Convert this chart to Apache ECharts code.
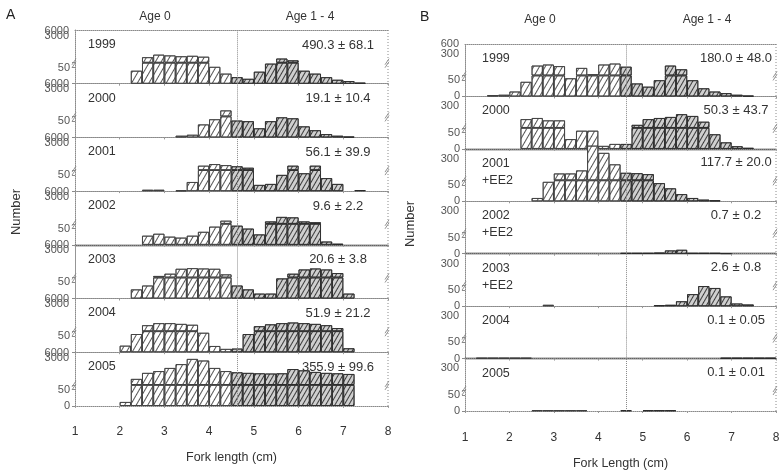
<!DOCTYPE html>
<html><head><meta charset="utf-8">
<script src="https://cdn.jsdelivr.net/npm/echarts@6/dist/echarts.min.js"></script>
<style>html,body{margin:0;padding:0;background:#fff}#c{width:780px;height:471px}</style>
</head><body><div id="c"></div>
<script>
// ---- data ----
const lengthBins = [1.125,1.375,1.625,1.875,2.125,2.375,2.625,2.875,3.125,3.375,3.625,3.875,4.125,4.375,4.625,4.875,5.125,5.375,5.625,5.875,6.125,6.375,6.625,6.875,7.125,7.375,7.625,7.875];
const xTicks = [1,2,3,4,5,6,7,8];
const ageSplit = 4.62;
const breakValue = 65;

const yearsA = ['1999','2000','2001','2002','2003','2004','2005'];
const yearsB = ['1999','2000','2001\n+EE2','2002\n+EE2','2003\n+EE2','2004','2005'];
const statsA = ['490.3 ± 68.1','19.1 ± 10.4','56.1 ± 39.9','9.6 ± 2.2','20.6 ± 3.8','51.9 ± 21.2','355.9 ± 99.6'];
const statsB = ['180.0 ± 48.0','50.3 ± 43.7','117.7 ± 20.0','0.7 ± 0.2','2.6 ± 0.8','0.1 ± 0.05','0.1 ± 0.01'];

const upperTicksA = [3000, 6000];
const upperTicksB1999 = [300, 600];
const upperTicksB = [300];

const A1999 = [0,0,0,0,0,40,140,200,180,160,170,150,52,31,20,15,37,62,116,90,40,31,20,12,8,3,0,0];
const A2000 = [0,0,0,0,0,0,0,0,0,5,8,40,56,150,52,50,28,50,62,59,34,22,10,5,2,0,0,0];
const A2001 = [0,0,0,0,0,0,4,4,0,2,28,120,150,130,110,90,19,22,50,120,55,120,40,22,0,3,0,0];
const A2002 = [0,0,0,0,0,0,28,34,25,22,28,40,56,100,59,50,32,90,170,160,90,80,10,3,0,0,0,0];
const A2003 = [0,0,0,0,0,28,40,80,110,220,240,230,220,100,40,28,15,15,62,110,200,230,200,120,15,0,0,0];
const A2004 = [0,0,0,0,20,56,150,200,200,180,160,60,19,10,11,56,130,170,200,220,200,180,150,100,12,0,0,0];
const A2005 = [0,0,0,0,12,150,350,450,700,1200,2500,2000,700,450,380,350,330,320,330,600,500,400,350,330,300,0,0,0];

const B1999 = [0,0,4,5,15,45,130,140,125,56,110,70,140,150,120,40,30,50,130,100,50,25,15,10,5,2,0,0];
const B2000 = [0,0,0,0,0,120,130,110,110,30,56,56,9,15,15,80,120,130,140,170,150,100,45,20,8,3,0,0];
const B2001 = [0,0,0,0,0,0,10,60,105,105,130,750,450,200,110,107,100,56,40,22,10,5,3,0,0,0,0,0];
const B2002 = [0,0,0,0,0,0,0,0,0,0,0,0,0,0,2,2,2,3,10,12,2,2,2,1,0,0,0,0];
const B2003 = [0,0,0,0,0,0,0,4,0,0,0,0,0,0,0,0,0,3,4,15,37,62,56,30,8,5,0,0];
const B2004 = [0,2,2,2,2,2,0,0,0,0,0,0,0,0,0,0,0,0,0,0,0,0,0,2,2,2,2,2];
const B2005 = [0,0,0,0,0,0,2,2,2,2,2,0,0,0,2,0,2,2,2,0,0,0,0,0,0,0,0,0];

const countsA = [A1999,A2000,A2001,A2002,A2003,A2004,A2005];
const countsB = [B1999,B2000,B2001,B2002,B2003,B2004,B2005];

// ---- layout / style ----
const FONT = '"Liberation Sans", Arial, sans-serif';
const TXT = '#333';
const LINE = '#8a8a8a';
const LOWER_H = 21;
const panels = [
  {letter:'A', counts:countsA, years:yearsA, stats:statsA, left:75, width:313, top:30, rowH:53.7, upMax:6500,
   ticks:r=>upperTicksA, solid:[3], zeroRows:[6], statX:338, statDy:15, yearX:88, labelMargin:20,
   xName:'Fork length (cm)', nameX:16, nameY:212, letterX:6, letterY:16, age0X:155, age1X:310, ageY:17},
  {letter:'B', counts:countsB, years:yearsB, stats:statsB, left:465, width:311, top:44, rowH:52.43, upMax:600,
   ticks:r=>r===0?upperTicksB1999:upperTicksB, solid:[1,3,5], zeroRows:[0,1,2,3,4,5,6], statX:736, statDy:14, yearX:482, labelMargin:21,
   xName:'Fork Length (cm)', nameX:410, nameY:224, letterX:420, letterY:18, age0X:540, age1X:707, ageY:20}
];

const age0Style = {color:'#ffffff', borderColor:'#3c3c3c', borderWidth:0.8,
  decal:{symbol:'rect', symbolSize:1, dashArrayX:[1,0], dashArrayY:[1,4], rotation:-Math.PI/3, color:'#555'}};
const age1Style = {color:'#cfcfcf', borderColor:'#2a2a2a', borderWidth:0.8,
  decal:{symbol:'rect', symbolSize:1, dashArrayX:[1,0], dashArrayY:[1,3], rotation:-Math.PI/3, color:'#3a3a3a'}};
const splitLine = {silent:true, symbol:['none','none'], label:{show:false}, animation:false,
  lineStyle:{type:'dotted', color:LINE, width:1}, emphasis:{disabled:true}, data:[{xAxis:ageSplit}]};

const grids=[], xAxes=[], yAxes=[], series=[], upperInfo=[], graphics=[];

panels.forEach(p=>{
  const bw = p.width/7*0.25;
  p.counts.forEach((vals,r)=>{
    const rowTop = p.top + p.rowH*r;
    const last = r===6;
    const gU = grids.length;
    grids.push({left:p.left, top:rowTop, width:p.width, height:p.rowH-LOWER_H, containLabel:false, outerBoundsMode:'none'});
    const gL = grids.length;
    grids.push({left:p.left, top:rowTop+p.rowH-LOWER_H, width:p.width, height:LOWER_H, containLabel:false, outerBoundsMode:'none'});
    const solid = p.solid.includes(r);
    xAxes.push({gridIndex:gU, type:'value', min:1, max:8, interval:1, position:'top',
      axisLine:{show:true, onZero:false, lineStyle:{type:'dotted', color:LINE}},
      axisTick:{show:false}, axisLabel:{show:false}, splitLine:{show:false}});
    xAxes.push({gridIndex:gL, type:'value', min:1, max:8, interval:1, position:'bottom',
      axisLine:{show:true, onZero:false, lineStyle:{type:solid?'solid':'dotted', color:solid?'#222':LINE, width:solid?1.4:1}},
      axisTick:{show:true, length:2, lineStyle:{color:'#999'}},
      axisLabel:{show:last, margin:p.labelMargin, fontSize:12, color:TXT, fontFamily:FONT, formatter:v=>xTicks.includes(v)?String(v):''},
      name:last?p.xName:'', nameLocation:'middle', nameGap:p.labelMargin+25,
      nameTextStyle:{fontSize:12.5, color:TXT, fontFamily:FONT}, splitLine:{show:false}});
    yAxes.push({gridIndex:gU, type:'log', logBase:10, min:breakValue, max:p.upMax, startValue:breakValue,
      axisLine:{show:true, onZero:false, lineStyle:{type:'dotted', color:LINE}},
      axisTick:{show:false}, axisLabel:{show:false}, splitLine:{show:false}});
    const showZero = p.zeroRows.includes(r);
    yAxes.push({gridIndex:gL, type:'value', min:0, max:breakValue, interval:50,
      axisLine:{show:true, onZero:false, lineStyle:{type:'dotted', color:LINE}},
      axisTick:{show:true, length:3, lineStyle:{color:LINE}},
      axisLabel:{show:true, fontSize:11, color:'#555', margin:5, fontFamily:FONT,
        formatter:v=>v===50?'50':(v===0&&showZero?'0':'')},
      splitLine:{show:false}});
    upperInfo.push({axis:gU, ticks:p.ticks(r), x:p.left-6});

    const pt=(i,v)=>[lengthBins[i], v];
    const isA0 = i=>lengthBins[i]<ageSplit;
    const up0 = vals.map((v,i)=>pt(i, v>breakValue&&isA0(i)?v:'-'));
    const up1 = vals.map((v,i)=>pt(i, v>breakValue&&!isA0(i)?v:'-'));
    const lo0 = vals.map((v,i)=>pt(i, v>0&&isA0(i)?Math.min(v,breakValue):'-'));
    const lo1 = vals.map((v,i)=>pt(i, v>0&&!isA0(i)?Math.min(v,breakValue):'-'));
    const common = {type:'bar', barWidth:bw, barGap:'-100%', animation:false, emphasis:{disabled:true}};
    series.push(Object.assign({}, common, {xAxisIndex:gU, yAxisIndex:gU, data:up0, clip:false, itemStyle:age0Style, markLine:splitLine, z:3}));
    series.push(Object.assign({}, common, {xAxisIndex:gU, yAxisIndex:gU, data:up1, clip:false, itemStyle:age1Style, z:3}));
    series.push(Object.assign({}, common, {xAxisIndex:gL, yAxisIndex:gL, data:lo0, itemStyle:age0Style, markLine:splitLine, z:3}));
    series.push(Object.assign({}, common, {xAxisIndex:gL, yAxisIndex:gL, data:lo1, itemStyle:age1Style, z:3}));

    // texts
    graphics.push({type:'text', left:p.yearX, top:rowTop+6, silent:true,
      style:{text:p.years[r], font:'12.5px '+FONT, fill:TXT, lineHeight:17}});
    graphics.push({type:'text', x:p.statX, y:rowTop+p.statDy, silent:true,
      style:{text:p.stats[r], font:'13px '+FONT, fill:TXT, align:'center', verticalAlign:'middle'}});
    // break marks
    const by = rowTop+p.rowH-LOWER_H;
    [p.left, p.left+p.width].forEach(bx=>{
      graphics.push({type:'line', silent:true, shape:{x1:bx-3, y1:by+2, x2:bx+1, y2:by-4}, style:{stroke:'#777', lineWidth:0.8}});
      graphics.push({type:'line', silent:true, shape:{x1:bx-3, y1:by+5, x2:bx+1, y2:by-1}, style:{stroke:'#777', lineWidth:0.8}});
    });
  });
  const bottom = p.top + p.rowH*7;
  graphics.push({type:'line', silent:true, shape:{x1:p.left+p.width, y1:p.top, x2:p.left+p.width, y2:bottom},
    style:{stroke:LINE, lineWidth:1, lineDash:[1,2]}});
  graphics.push({type:'text', left:p.letterX, top:p.letterY-8, silent:true, style:{text:p.letter, font:'14px '+FONT, fill:'#222'}});
  graphics.push({type:'text', x:p.age0X, y:p.ageY, silent:true, style:{text:'Age 0', font:'12px '+FONT, fill:TXT, align:'center', verticalAlign:'middle'}});
  graphics.push({type:'text', x:p.age1X, y:p.ageY, silent:true, style:{text:'Age 1 - 4', font:'12px '+FONT, fill:TXT, align:'center', verticalAlign:'middle'}});
  graphics.push({type:'text', x:p.nameX, y:p.nameY, rotation:Math.PI/2, silent:true,
    style:{text:'Number', font:'13px '+FONT, fill:TXT, align:'center', verticalAlign:'middle'}});
});

const chart = echarts.init(document.getElementById('c'), null, {renderer:'canvas'});
chart.setOption({animation:false, backgroundColor:'#fff', grid:grids, xAxis:xAxes, yAxis:yAxes, series:series});

upperInfo.forEach(u=>{
  u.ticks.forEach(t=>{
    const y = chart.convertToPixel({yAxisIndex:u.axis}, t);
    graphics.push({type:'text', x:u.x, y:y, silent:true,
      style:{text:String(t), font:'11px '+FONT, fill:'#555', align:'right', verticalAlign:'middle'}});
  });
});
chart.setOption({graphic:graphics});
</script></body></html>
